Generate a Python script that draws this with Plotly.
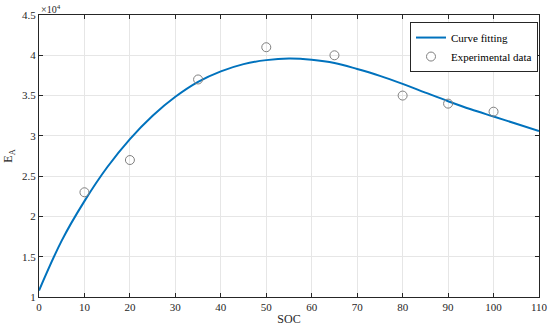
import plotly.graph_objects as go

# experimental points
soc_exp = [10, 20, 35, 50, 65, 80, 90, 100]
ea_exp = [23000, 27000, 37000, 41000, 40000, 35000, 34000, 33000]

# fitted curve
soc_fit = [0, 5, 10, 15, 20, 25, 30, 35, 40, 45, 50, 55, 60, 65, 70, 75, 80, 85, 90, 95, 100, 105, 110]
ea_fit = [10800, 17000, 21900, 26100, 29600, 32500, 34850, 36700, 38000, 38900, 39400, 39600, 39450, 39050, 38300,
          37450, 36450, 35370, 34300, 33300, 32400, 31500, 30600]

y_ticks = [10000, 15000, 20000, 25000, 30000, 35000, 40000, 45000]
y_labels = ['1', '1.5', '2', '2.5', '3', '3.5', '4', '4.5']
x_ticks = list(range(0, 111, 10))

FONT = 'Liberation Serif, Times New Roman, serif'
AXIS_COLOR = '#262626'
GRID_COLOR = '#e6e6e6'

fig = go.Figure()

fig.add_trace(go.Scatter(
    x=soc_fit, y=ea_fit,
    mode='lines',
    name='Curve fitting',
    line=dict(color='#0072bd', width=2, shape='spline', smoothing=1.0),
))

fig.add_trace(go.Scatter(
    x=soc_exp, y=ea_exp,
    mode='markers',
    name='Experimental data',
    marker=dict(symbol='circle-open', size=9, color='#808080', line=dict(width=1)),
))

fig.update_layout(
    width=550, height=329,
    paper_bgcolor='white',
    plot_bgcolor='white',
    font=dict(family=FONT, size=11, color=AXIS_COLOR),
    margin=dict(l=39, r=11, t=15, b=32),
    showlegend=True,
    legend=dict(
        x=0.998, y=0.975, xanchor='right', yanchor='top',
        bgcolor='white', bordercolor='#262626', borderwidth=1,
        font=dict(family=FONT, size=11, color='black'),
        tracegroupgap=0, itemwidth=30,
    ),
    xaxis=dict(
        range=[0, 110], tickvals=x_ticks, ticks='inside', ticklen=4,
        tickcolor=AXIS_COLOR, showline=True, linecolor=AXIS_COLOR, linewidth=1,
        mirror='ticks', showgrid=True, gridcolor=GRID_COLOR, zeroline=False,
        title=dict(text='SOC', font=dict(size=12), standoff=2),
        tickfont=dict(size=11), automargin=False,
    ),
    yaxis=dict(
        range=[10000, 45000], tickvals=y_ticks, ticktext=y_labels, ticks='inside', ticklen=4,
        tickcolor=AXIS_COLOR, showline=True, linecolor=AXIS_COLOR, linewidth=1,
        mirror='ticks', showgrid=True, gridcolor=GRID_COLOR, zeroline=False,
        title=dict(text='E<sub>A</sub>', font=dict(size=12), standoff=6),
        tickfont=dict(size=11), automargin=False,
    ),
)

fig.add_annotation(
    x=0, y=1, xref='paper', yref='paper', xanchor='left', yanchor='bottom',
    text='\u00d710<sup>4</sup>', showarrow=False,
    font=dict(family=FONT, size=10, color=AXIS_COLOR), yshift=-2,
)

# page body has a default 8px margin; drop it so the figure sits at the window origin
fig.write_html("out.html", config={'displayModeBar': False},
               post_script="document.body.style.margin = '0';")
